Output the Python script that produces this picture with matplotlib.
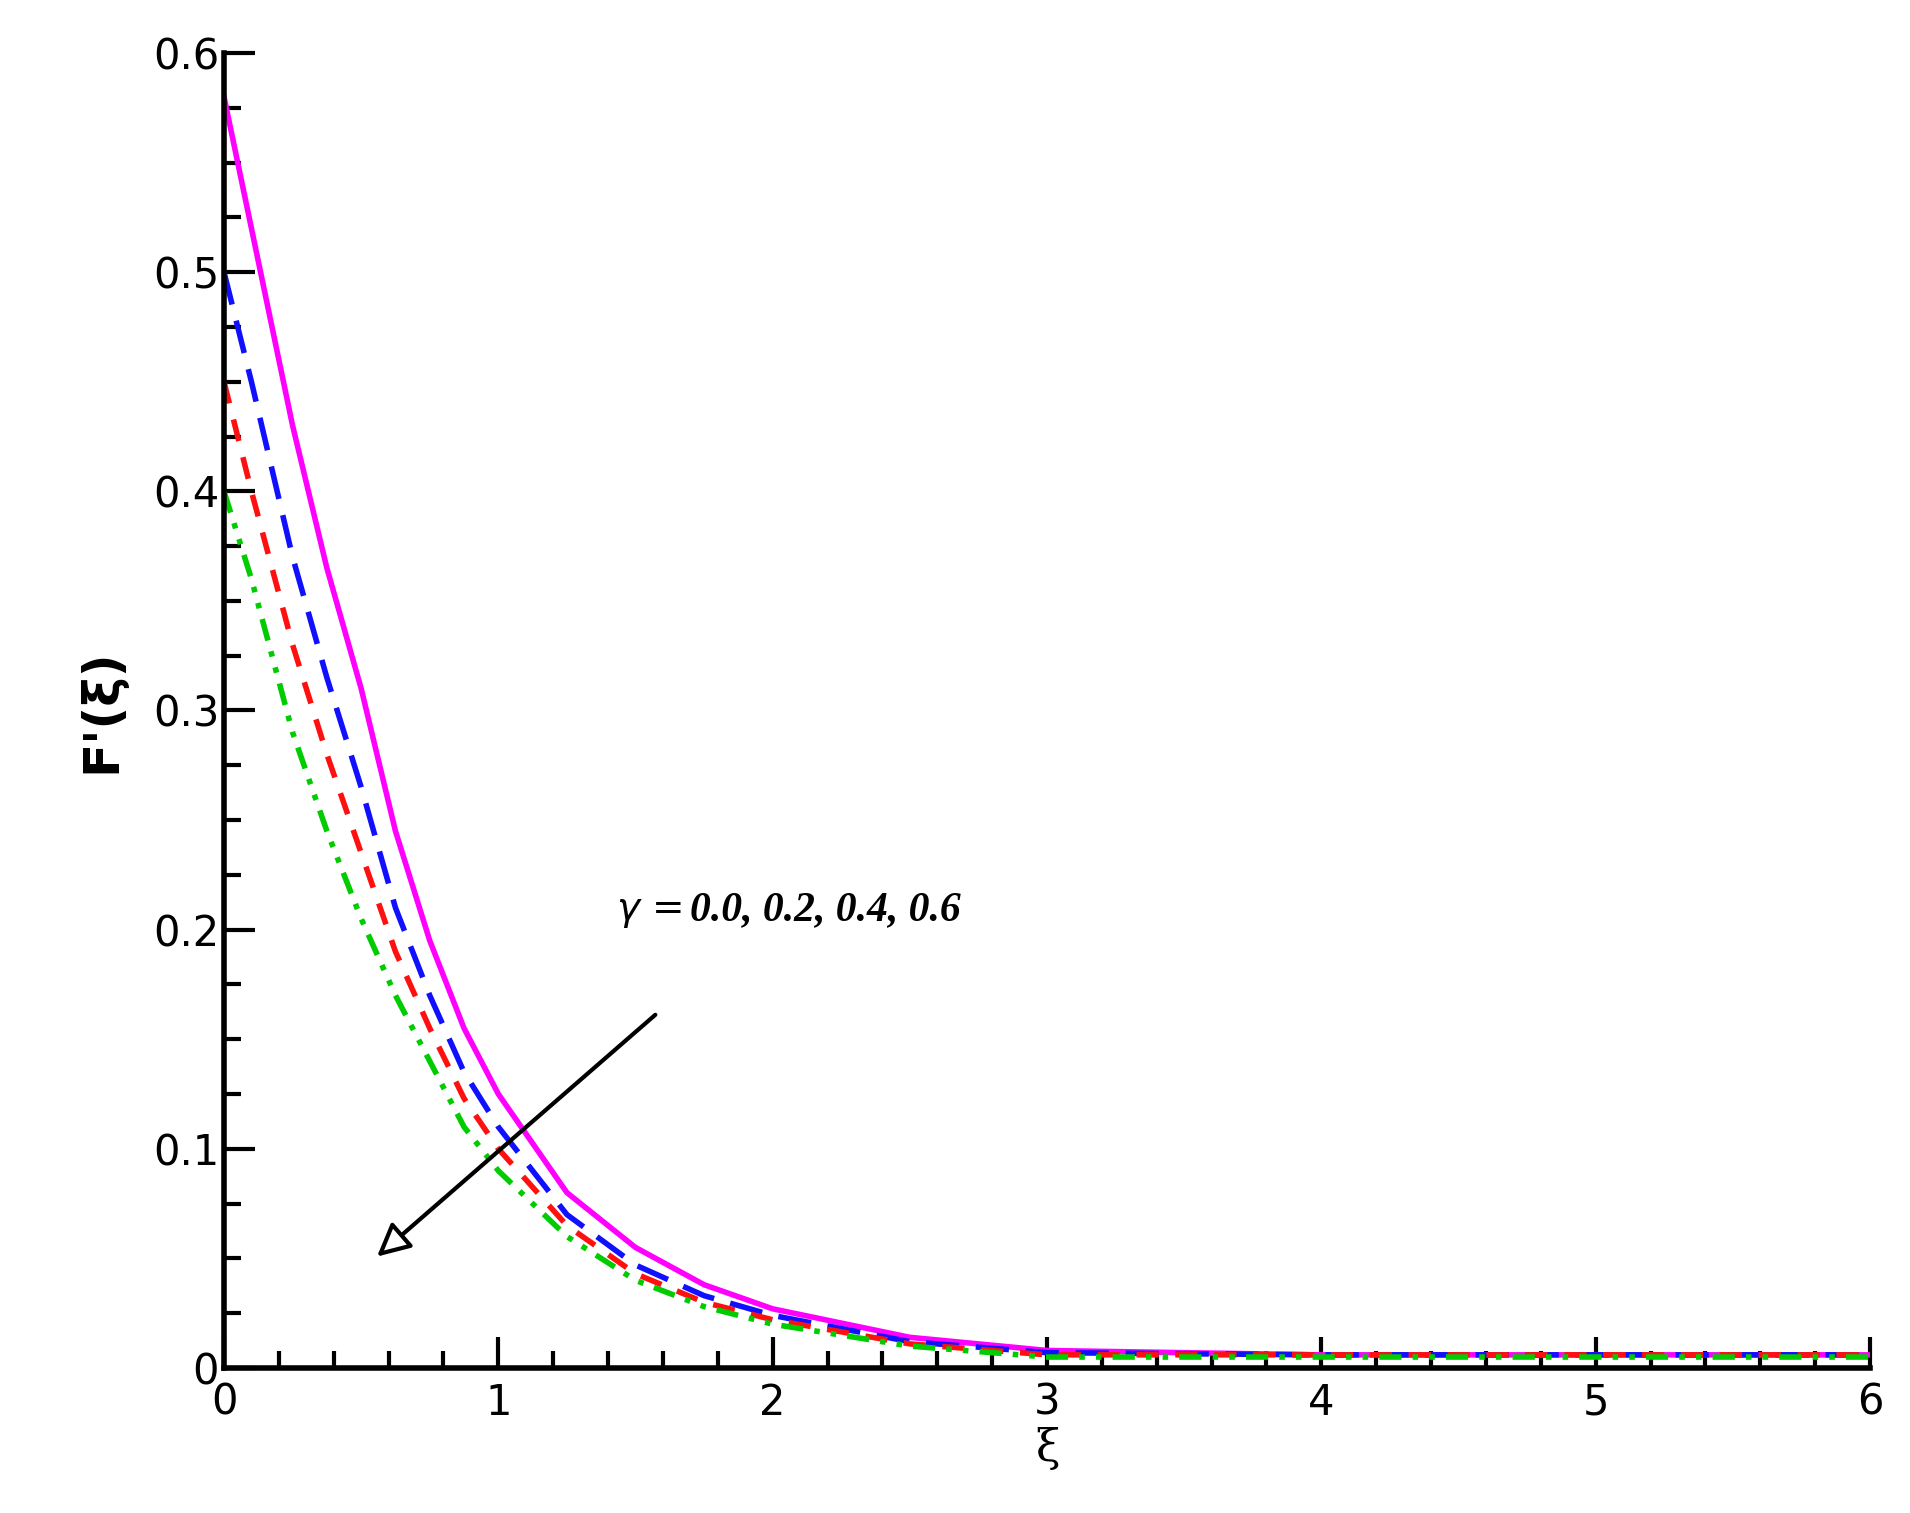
import numpy as np
import matplotlib.pyplot as plt
from matplotlib.ticker import MultipleLocator, FuncFormatter

xi = [0, 0.1, 0.25, 0.375, 0.5, 0.625, 0.75, 0.875, 1.0, 1.25, 1.5, 1.75, 2.0, 2.5, 3.0, 4.0, 5.0, 6.0]
f_g00 = [0.58, 0.52, 0.43, 0.365, 0.31, 0.245, 0.195, 0.155, 0.125, 0.08, 0.055, 0.038, 0.027, 0.014, 0.008, 0.006, 0.006, 0.006]
f_g02 = [0.50, 0.45, 0.37, 0.315, 0.265, 0.21, 0.17, 0.135, 0.11, 0.07, 0.047, 0.033, 0.024, 0.012, 0.007, 0.006, 0.006, 0.006]
f_g04 = [0.45, 0.40, 0.33, 0.28, 0.235, 0.19, 0.155, 0.123, 0.10, 0.065, 0.043, 0.030, 0.022, 0.011, 0.006, 0.006, 0.006, 0.006]
f_g06 = [0.40, 0.36, 0.29, 0.245, 0.205, 0.17, 0.14, 0.11, 0.09, 0.06, 0.04, 0.028, 0.02, 0.01, 0.005, 0.005, 0.005, 0.005]

fig = plt.figure(figsize=(19.10, 15.13), dpi=100)
ax = fig.add_axes([224/1910, 1 - 1368/1513, (1870-224)/1910, (1368-53)/1513])

ax.plot(xi, f_g00, color='#ff00ff', lw=4, ls='-')
ax.plot(xi, f_g02, color='#1010ff', lw=4, ls=(0, (6, 3)))
ax.plot(xi, f_g04, color='#ff1010', lw=4, ls=(0, (4, 3)))
ax.plot(xi, f_g06, color='#00cc00', lw=4, ls=(0, (4, 2, 1, 2, 1, 2)))

ax.set_xlim(0, 6)
ax.set_ylim(0, 0.6)
ax.xaxis.set_major_locator(MultipleLocator(1))
ax.xaxis.set_minor_locator(MultipleLocator(0.2))
ax.yaxis.set_major_locator(MultipleLocator(0.1))
ax.yaxis.set_minor_locator(MultipleLocator(0.025))
ax.yaxis.set_major_formatter(FuncFormatter(lambda v, p: '0' if abs(v) < 1e-9 else f'{v:.1f}'))
ax.tick_params(which='both', direction='in', width=3, labelsize=30,
               top=False, right=False)
ax.tick_params(which='major', length=22)
ax.tick_params(which='minor', length=12)
ax.tick_params(axis='x', pad=10)
for s in ['top', 'right']:
    ax.spines[s].set_visible(False)
for s in ['left', 'bottom']:
    ax.spines[s].set_linewidth(4)

ax.set_xlabel('ξ', fontsize=32, family='DejaVu Serif', labelpad=2)
ax.set_ylabel("F'(ξ)", fontsize=36, fontweight='bold', labelpad=20)

ax.text(1.43, 0.2, r'$\gamma$ = ', fontsize=28, family='serif', ha='left', va='bottom')
ax.text(1.7, 0.2, '0.0, 0.2, 0.4, 0.6', fontsize=30, family='Liberation Serif',
        style='italic', fontweight='bold', ha='left', va='bottom')
ax.annotate('', xy=(0.55, 0.05), xytext=(1.58, 0.162),
            arrowprops=dict(arrowstyle='-|>,head_length=2.0,head_width=1.0',
                            fc='white', ec='black', lw=3))

fig.savefig('out.png', dpi=100)
